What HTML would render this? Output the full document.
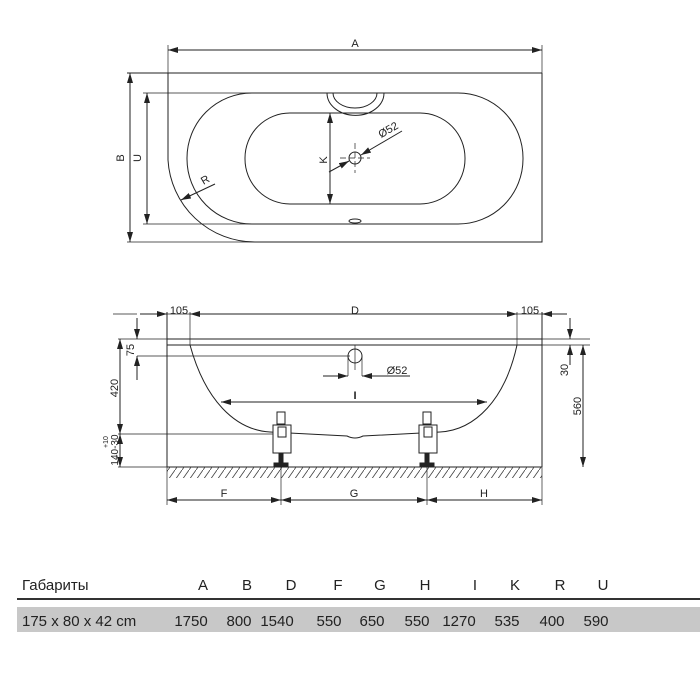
<!DOCTYPE html>
<html><head><meta charset="utf-8"><style>
body{margin:0;background:#fff;width:700px;height:700px;overflow:hidden;font-family:"Liberation Sans",sans-serif}
svg{position:absolute;left:0;top:0}
</style></head><body>
<svg width="700" height="700" viewBox="0 0 700 700" font-family="Liberation Sans, sans-serif">
<defs>
<marker id="a" viewBox="0 0 10 6" refX="10" refY="3" markerWidth="10" markerHeight="6" orient="auto-start-reverse" markerUnits="userSpaceOnUse"><path d="M0,0 L10,3 L0,6 z" fill="#222"/></marker>
<pattern id="h" width="7" height="10" patternUnits="userSpaceOnUse"><path d="M0,10 L7,0" stroke="#444" stroke-width="0.8"/></pattern>
</defs>
<g stroke="#222" fill="none" stroke-width="1">
<line x1="168" y1="50" x2="542" y2="50" marker-start="url(#a)" marker-end="url(#a)"/>
<line x1="168" y1="45" x2="168" y2="75" stroke-width="0.7"/>
<line x1="542" y1="45" x2="542" y2="75" stroke-width="0.7"/>
<line x1="127" y1="73" x2="542" y2="73"/>
<path d="M542,73 L542,242 L255,242 A87,87 0 0 1 168,160 L168,73"/>
<line x1="127" y1="242" x2="255" y2="242" stroke-width="0.7"/>
<line x1="130" y1="73" x2="130" y2="242" marker-start="url(#a)" marker-end="url(#a)"/>
<line x1="143" y1="93" x2="255" y2="93" stroke-width="0.7"/>
<line x1="143" y1="224" x2="255" y2="224" stroke-width="0.7"/>
<line x1="147" y1="93" x2="147" y2="224" marker-start="url(#a)" marker-end="url(#a)"/>
<rect x="187" y="93" width="336" height="131" rx="65" ry="65"/>
<rect x="245" y="113" width="220" height="91" rx="45" ry="45"/>
<path d="M327,93 A28,22 0 0 0 384,93"/>
<path d="M333,93 A22,15 0 0 0 377,93"/>
<line x1="330" y1="113" x2="330" y2="204" marker-start="url(#a)" marker-end="url(#a)"/>
<circle cx="355" cy="158" r="6"/>
<line x1="340" y1="158" x2="370" y2="158" stroke-dasharray="6,3" stroke-width="0.7"/>
<line x1="355" y1="143" x2="355" y2="173" stroke-dasharray="6,3" stroke-width="0.7"/>
<line x1="329" y1="172" x2="349" y2="161" marker-end="url(#a)"/>
<line x1="402" y1="131" x2="361" y2="155" marker-end="url(#a)"/>
<line x1="215" y1="184" x2="181" y2="200" marker-end="url(#a)"/>
<ellipse cx="355" cy="221" rx="6" ry="2"/>
<line x1="113" y1="314" x2="137" y2="314" stroke-width="0.7"/>
<line x1="190" y1="314" x2="517" y2="314" marker-start="url(#a)" marker-end="url(#a)"/>
<line x1="140" y1="314" x2="167" y2="314" marker-end="url(#a)"/>
<line x1="567" y1="314" x2="542" y2="314" marker-end="url(#a)"/>
<line x1="517" y1="314" x2="542" y2="314" stroke-width="0.7"/>
<line x1="167" y1="314" x2="190" y2="314" stroke-width="0.7"/>
<line x1="190" y1="312" x2="190" y2="345" stroke-width="0.7"/>
<line x1="517" y1="312" x2="517" y2="345" stroke-width="0.7"/>
<line x1="167" y1="312" x2="167" y2="467"/>
<line x1="542" y1="312" x2="542" y2="467"/>
<rect x="167" y="339" width="375" height="6"/>
<line x1="118" y1="339" x2="167" y2="339" stroke-width="0.7"/>
<line x1="542" y1="339" x2="590" y2="339" stroke-width="0.7"/>
<line x1="137" y1="318" x2="137" y2="339" marker-end="url(#a)"/>
<line x1="137" y1="380" x2="137" y2="356" marker-end="url(#a)"/>
<line x1="137" y1="356" x2="350" y2="356" stroke-width="0.7"/>
<circle cx="355" cy="356" r="7"/>
<line x1="355" y1="345" x2="355" y2="370" stroke-width="0.7"/>
<line x1="348" y1="356" x2="348" y2="376" stroke-width="0.7"/>
<line x1="362" y1="356" x2="362" y2="376" stroke-width="0.7"/>
<line x1="323" y1="376" x2="348" y2="376" marker-end="url(#a)"/>
<line x1="410" y1="376" x2="362" y2="376" marker-end="url(#a)"/>
<line x1="570" y1="318" x2="570" y2="339" marker-end="url(#a)"/>
<line x1="570" y1="365" x2="570" y2="345" marker-end="url(#a)"/>
<line x1="542" y1="345" x2="590" y2="345" stroke-width="0.7"/>
<line x1="583" y1="345" x2="583" y2="467" marker-start="url(#a)" marker-end="url(#a)"/>
<line x1="120" y1="339" x2="120" y2="434" marker-start="url(#a)" marker-end="url(#a)"/>
<line x1="120" y1="434" x2="120" y2="467" marker-start="url(#a)" marker-end="url(#a)"/>
<line x1="118" y1="434" x2="273" y2="434" stroke-width="0.7"/>
<line x1="118" y1="467" x2="167" y2="467" stroke-width="0.7"/>
<path d="M190,345 C205,400 235,430 270,432 L347,436 Q355,440 363,436 L440,432 C475,430 505,400 517,345"/>
<line x1="221" y1="402" x2="487" y2="402" marker-start="url(#a)" marker-end="url(#a)"/>
<line x1="167" y1="467" x2="542" y2="467"/>
<rect x="167" y="467" width="375" height="11" fill="url(#h)" stroke="none"/>
<line x1="167" y1="467" x2="167" y2="505" stroke-width="0.7"/>
<line x1="281" y1="467" x2="281" y2="505" stroke-width="0.7"/>
<line x1="427" y1="467" x2="427" y2="505" stroke-width="0.7"/>
<line x1="542" y1="467" x2="542" y2="505" stroke-width="0.7"/>
<line x1="167" y1="500" x2="281" y2="500" marker-start="url(#a)" marker-end="url(#a)"/>
<line x1="281" y1="500" x2="427" y2="500" marker-start="url(#a)" marker-end="url(#a)"/>
<line x1="427" y1="500" x2="542" y2="500" marker-start="url(#a)" marker-end="url(#a)"/>
<g fill="#fff">
<rect x="277" y="412" width="8" height="12"/><rect x="273" y="425" width="18" height="28"/><rect x="278" y="427" width="8" height="10"/>
<rect x="279" y="453" width="4" height="10" fill="#222"/><rect x="274" y="463" width="14" height="3" fill="#222"/>
<rect x="423" y="412" width="8" height="12"/><rect x="419" y="425" width="18" height="28"/><rect x="424" y="427" width="8" height="10"/>
<rect x="425" y="453" width="4" height="10" fill="#222"/><rect x="420" y="463" width="14" height="3" fill="#222"/>
</g>
</g>
<g fill="#222" font-size="11" text-anchor="middle">
<text x="355" y="47">A</text>
<text x="124" y="158" transform="rotate(-90 124 158)">B</text>
<text x="141" y="158" transform="rotate(-90 141 158)">U</text>
<text x="327" y="160" transform="rotate(-90 327 160)">K</text>
<text x="390" y="133" transform="rotate(-30 390 133)">Ø52</text>
<text x="207" y="183" transform="rotate(-30 207 183)">R</text>
<text x="179" y="314">105</text>
<text x="355" y="314">D</text>
<text x="530" y="314">105</text>
<text x="134" y="350" transform="rotate(-90 134 350)">75</text>
<text x="118" y="388" transform="rotate(-90 118 388)">420</text>
<text x="397" y="374">Ø52</text>
<text x="568" y="370" transform="rotate(-90 568 370)">30</text>
<text x="581" y="406" transform="rotate(-90 581 406)">560</text>
<text x="355" y="399" font-weight="bold">I</text>
<text x="118" y="450" transform="rotate(-90 118 450)" font-size="10">140-30</text>
<text x="108" y="442" transform="rotate(-90 108 442)" font-size="7">+10</text>
<text x="224" y="497">F</text>
<text x="354" y="497">G</text>
<text x="484" y="497">H</text>
</g>
<line x1="17" y1="599" x2="700" y2="599" stroke="#333" stroke-width="2"/>
<rect x="17" y="607" width="683" height="25" fill="#c8c8c8"/>
<g fill="#222" font-size="15">
<text x="22" y="590">Габариты</text>
<g text-anchor="middle">
<text x="203" y="590">A</text><text x="247" y="590">B</text><text x="291" y="590">D</text><text x="338" y="590">F</text><text x="380" y="590">G</text><text x="425" y="590">H</text><text x="475" y="590">I</text><text x="515" y="590">K</text><text x="560" y="590">R</text><text x="603" y="590">U</text>
</g>
<text x="22" y="626">175 x 80 x 42 cm</text>
<g text-anchor="middle">
<text x="191" y="626">1750</text><text x="239" y="626">800</text><text x="277" y="626">1540</text><text x="329" y="626">550</text><text x="372" y="626">650</text><text x="417" y="626">550</text><text x="459" y="626">1270</text><text x="507" y="626">535</text><text x="552" y="626">400</text><text x="596" y="626">590</text>
</g>
</g>
</svg>
</body></html>
